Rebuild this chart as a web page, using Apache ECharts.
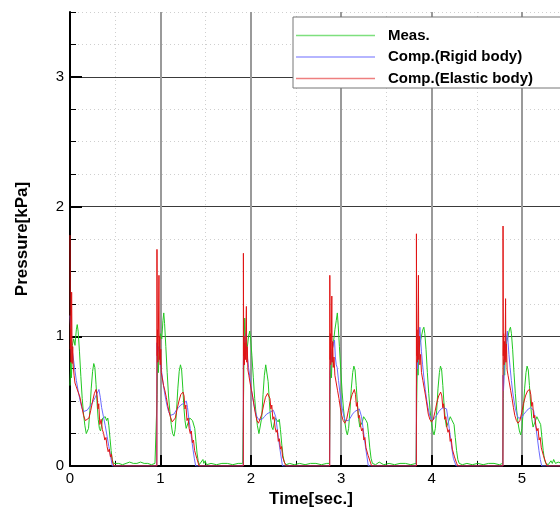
<!DOCTYPE html>
<html>
<head>
<meta charset="utf-8">
<script src="https://cdn.jsdelivr.net/npm/echarts@6/dist/echarts.min.js"></script>
<style>
html,body{margin:0;padding:0;background:#fff;overflow:hidden;}
#chart{width:560px;height:508px;}
</style>
</head>
<body>
<div id="chart"></div>
<script>
// Series names
var seriesNames = ['Meas.', 'Comp.(Rigid body)', 'Comp.(Elastic body)'];

// Measured pressure [time(s), kPa]
var measured = [
[0.000,0.62],[0.008,0.80],[0.016,0.68],[0.026,0.93],[0.040,0.98],[0.055,0.93],[0.070,1.05],[0.080,1.09],[0.090,1.04],[0.105,0.88],[0.120,0.69],[0.135,0.52],[0.150,0.40],[0.165,0.31],[0.180,0.25],[0.192,0.24],[0.205,0.29],[0.220,0.43],[0.235,0.60],[0.250,0.73],[0.263,0.79],[0.275,0.76],[0.288,0.63],[0.300,0.48],[0.312,0.36],[0.325,0.29],[0.338,0.27],[0.350,0.32],[0.362,0.37],[0.375,0.36],[0.390,0.38],[0.405,0.35],[0.418,0.37],[0.430,0.31],[0.443,0.21],[0.455,0.12],[0.467,0.05],[0.480,0.02],[0.500,0.01],[0.540,0.02],[0.580,0.01],[0.620,0.02],[0.660,0.03],[0.700,0.02],[0.740,0.02],[0.780,0.03],[0.820,0.02],[0.860,0.02],[0.900,0.01],[0.940,0.02],
[0.958,0.02],[0.964,0.55],[0.970,0.85],[0.978,0.72],[0.988,0.95],[1.000,1.02],[1.015,0.98],[1.028,1.12],[1.037,1.18],[1.046,1.10],[1.060,0.92],[1.075,0.72],[1.090,0.54],[1.105,0.42],[1.120,0.32],[1.135,0.25],[1.150,0.23],[1.163,0.28],[1.178,0.42],[1.193,0.60],[1.208,0.73],[1.222,0.78],[1.235,0.74],[1.248,0.60],[1.260,0.45],[1.272,0.35],[1.285,0.29],[1.298,0.28],[1.310,0.34],[1.325,0.37],[1.340,0.38],[1.355,0.35],[1.368,0.36],[1.380,0.29],[1.393,0.19],[1.405,0.10],[1.418,0.04],[1.430,0.01],[1.450,0.02],[1.470,0.05],[1.480,0.02],[1.495,0.04],[1.510,0.01],[1.560,0.02],[1.620,0.01],[1.680,0.02],[1.740,0.02],[1.800,0.01],[1.860,0.02],[1.910,0.02],
[1.916,0.02],[1.921,0.60],[1.927,0.98],[1.933,1.14],[1.940,0.90],[1.950,0.95],[1.962,0.92],[1.975,1.00],[1.988,1.04],[1.998,0.98],[2.012,0.85],[2.028,0.68],[2.043,0.52],[2.058,0.40],[2.073,0.31],[2.090,0.25],[2.105,0.26],[2.120,0.37],[2.135,0.55],[2.150,0.70],[2.165,0.78],[2.178,0.77],[2.192,0.65],[2.205,0.50],[2.218,0.37],[2.232,0.30],[2.245,0.28],[2.258,0.33],[2.272,0.37],[2.288,0.38],[2.302,0.34],[2.315,0.36],[2.328,0.28],[2.342,0.17],[2.356,0.08],[2.370,0.03],[2.390,0.01],[2.430,0.02],[2.480,0.01],[2.540,0.02],[2.600,0.01],[2.660,0.02],[2.720,0.02],[2.780,0.01],[2.840,0.02],[2.870,0.02],
[2.872,0.02],[2.877,0.55],[2.884,0.78],[2.892,0.68],[2.902,0.90],[2.915,0.96],[2.930,1.05],[2.945,1.12],[2.957,1.18],[2.967,1.08],[2.980,0.92],[2.995,0.74],[3.010,0.57],[3.025,0.44],[3.040,0.34],[3.055,0.27],[3.068,0.24],[3.082,0.29],[3.097,0.43],[3.112,0.60],[3.127,0.72],[3.140,0.77],[3.153,0.74],[3.166,0.62],[3.180,0.47],[3.193,0.36],[3.206,0.30],[3.220,0.29],[3.233,0.34],[3.248,0.38],[3.262,0.37],[3.276,0.35],[3.290,0.33],[3.303,0.24],[3.316,0.14],[3.330,0.06],[3.345,0.02],[3.380,0.01],[3.420,0.03],[3.470,0.01],[3.530,0.02],[3.590,0.01],[3.650,0.02],[3.710,0.02],[3.770,0.01],[3.828,0.02],
[3.830,0.02],[3.835,0.50],[3.842,0.80],[3.850,0.70],[3.860,0.88],[3.873,0.95],[3.888,1.00],[3.902,1.05],[3.914,1.07],[3.925,1.02],[3.938,0.90],[3.953,0.72],[3.968,0.56],[3.983,0.43],[3.998,0.33],[4.013,0.27],[4.027,0.24],[4.041,0.29],[4.056,0.43],[4.071,0.60],[4.086,0.72],[4.098,0.77],[4.111,0.74],[4.124,0.62],[4.138,0.47],[4.151,0.36],[4.164,0.30],[4.178,0.30],[4.191,0.35],[4.206,0.38],[4.220,0.36],[4.234,0.37],[4.248,0.32],[4.262,0.22],[4.276,0.12],[4.290,0.05],[4.305,0.02],[4.340,0.01],[4.390,0.02],[4.450,0.01],[4.510,0.02],[4.570,0.01],[4.630,0.02],[4.690,0.02],[4.750,0.01],[4.786,0.02],
[4.788,0.02],[4.793,0.52],[4.800,0.82],[4.808,0.70],[4.818,0.90],[4.831,0.96],[4.846,1.00],[4.860,1.05],[4.872,1.07],[4.883,1.02],[4.896,0.90],[4.911,0.72],[4.926,0.56],[4.941,0.43],[4.956,0.33],[4.971,0.27],[4.985,0.24],[4.999,0.29],[5.014,0.43],[5.029,0.60],[5.044,0.72],[5.056,0.77],[5.069,0.74],[5.082,0.62],[5.096,0.47],[5.109,0.36],[5.122,0.30],[5.136,0.30],[5.149,0.35],[5.164,0.38],[5.178,0.36],[5.192,0.37],[5.206,0.32],[5.220,0.22],[5.234,0.12],[5.248,0.05],[5.263,0.02],[5.290,0.01],[5.320,0.04],[5.335,0.02],[5.350,0.05],[5.370,0.02],[5.400,0.03],[5.440,0.02]
];

// Computed, rigid body [time(s), kPa]
var rigid = [
[0.000,1.16],[0.008,1.05],[0.015,0.87],[0.025,0.89],[0.035,0.84],[0.050,0.76],[0.070,0.66],[0.090,0.58],[0.110,0.51],[0.130,0.45],[0.150,0.42],[0.170,0.41],[0.190,0.43],[0.220,0.46],[0.250,0.49],[0.280,0.53],[0.300,0.56],[0.320,0.59],[0.335,0.53],[0.350,0.45],[0.370,0.38],[0.390,0.31],[0.410,0.23],[0.430,0.15],[0.450,0.07],[0.468,0.00],
[0.960,0.00],[0.962,0.95],[0.970,0.88],[0.978,0.92],[0.988,0.86],[1.000,0.80],[1.015,0.72],[1.030,0.64],[1.045,0.57],[1.060,0.51],[1.075,0.46],[1.090,0.42],[1.110,0.39],[1.130,0.38],[1.150,0.40],[1.175,0.43],[1.200,0.45],[1.225,0.47],[1.250,0.48],[1.272,0.49],[1.287,0.50],[1.300,0.45],[1.315,0.36],[1.330,0.29],[1.345,0.21],[1.360,0.13],[1.375,0.06],[1.390,0.00],
[1.916,0.00],[1.918,0.80],[1.925,0.95],[1.944,1.02],[1.952,0.90],[1.962,0.84],[1.975,0.76],[1.990,0.68],[2.005,0.60],[2.020,0.53],[2.035,0.47],[2.050,0.42],[2.068,0.38],[2.085,0.36],[2.105,0.35],[2.125,0.36],[2.150,0.38],[2.175,0.40],[2.200,0.41],[2.225,0.42],[2.250,0.43],[2.262,0.43],[2.275,0.38],[2.290,0.30],[2.305,0.22],[2.320,0.14],[2.335,0.07],[2.350,0.00],
[2.872,0.00],[2.874,0.70],[2.882,0.88],[2.890,0.80],[2.900,0.90],[2.926,0.97],[2.935,0.84],[2.945,0.78],[2.955,0.76],[2.970,0.66],[2.985,0.57],[3.000,0.49],[3.015,0.43],[3.030,0.38],[3.045,0.35],[3.062,0.34],[3.080,0.35],[3.100,0.37],[3.125,0.40],[3.150,0.42],[3.175,0.43],[3.200,0.44],[3.212,0.43],[3.225,0.38],[3.240,0.30],[3.255,0.22],[3.270,0.14],[3.285,0.07],[3.300,0.00],
[3.830,0.00],[3.832,0.60],[3.838,0.82],[3.846,0.75],[3.855,0.95],[3.870,1.07],[3.878,0.98],[3.888,0.88],[3.900,0.78],[3.915,0.68],[3.930,0.59],[3.945,0.51],[3.960,0.45],[3.975,0.40],[3.990,0.37],[4.010,0.35],[4.030,0.36],[4.055,0.39],[4.080,0.42],[4.105,0.44],[4.130,0.45],[4.150,0.46],[4.165,0.44],[4.180,0.37],[4.195,0.29],[4.210,0.21],[4.225,0.13],[4.240,0.06],[4.255,0.03],[4.272,0.00],
[4.788,0.00],[4.790,0.70],[4.795,0.58],[4.800,0.66],[4.808,0.85],[4.838,1.04],[4.846,0.95],[4.855,0.86],[4.868,0.76],[4.882,0.66],[4.897,0.57],[4.912,0.50],[4.927,0.44],[4.942,0.40],[4.958,0.37],[4.975,0.36],[4.995,0.37],[5.020,0.40],[5.045,0.42],[5.070,0.44],[5.095,0.45],[5.113,0.46],[5.128,0.43],[5.142,0.36],[5.157,0.28],[5.172,0.20],[5.187,0.12],[5.202,0.05],[5.218,0.00],[5.440,0.00]
];

// Computed, elastic body [time(s), kPa]
var elastic = [
[0.000,1.78],[0.004,0.90],[0.008,1.05],[0.012,0.80],[0.018,1.34],[0.024,0.79],[0.030,0.92],[0.036,0.77],[0.045,0.70],[0.055,0.64],[0.070,0.61],[0.090,0.57],[0.110,0.53],[0.130,0.46],[0.150,0.39],[0.170,0.35],[0.190,0.34],[0.210,0.37],[0.230,0.43],[0.250,0.50],[0.270,0.56],[0.288,0.59],[0.300,0.54],[0.310,0.44],[0.318,0.48],[0.330,0.32],[0.345,0.36],[0.358,0.28],[0.372,0.25],[0.385,0.20],[0.398,0.22],[0.410,0.15],[0.422,0.11],[0.435,0.13],[0.447,0.07],[0.458,0.09],[0.470,0.03],[0.485,0.00],
[0.961,0.00],[0.962,1.67],[0.965,0.85],[0.969,1.05],[0.972,0.80],[0.977,0.98],[0.984,1.47],[0.988,0.82],[0.993,1.00],[0.998,0.78],[1.004,0.90],[1.010,0.72],[1.020,0.68],[1.035,0.62],[1.050,0.58],[1.065,0.53],[1.080,0.47],[1.095,0.42],[1.110,0.38],[1.130,0.34],[1.147,0.33],[1.165,0.37],[1.185,0.44],[1.205,0.50],[1.225,0.55],[1.250,0.57],[1.262,0.54],[1.272,0.44],[1.282,0.47],[1.294,0.35],[1.306,0.37],[1.318,0.29],[1.330,0.25],[1.342,0.27],[1.354,0.18],[1.366,0.20],[1.378,0.12],[1.390,0.13],[1.402,0.06],[1.414,0.07],[1.428,0.00],
[1.917,0.00],[1.918,1.64],[1.921,0.85],[1.925,1.00],[1.929,0.78],[1.934,0.95],[1.940,0.82],[1.951,1.23],[1.955,0.80],[1.961,0.92],[1.968,0.74],[1.978,0.70],[1.992,0.64],[2.008,0.58],[2.022,0.53],[2.037,0.46],[2.052,0.40],[2.068,0.35],[2.085,0.33],[2.103,0.34],[2.122,0.40],[2.142,0.47],[2.162,0.53],[2.185,0.56],[2.200,0.57],[2.212,0.52],[2.222,0.44],[2.232,0.47],[2.244,0.36],[2.256,0.38],[2.268,0.30],[2.280,0.26],[2.292,0.28],[2.304,0.19],[2.316,0.21],[2.328,0.13],[2.340,0.15],[2.352,0.07],[2.364,0.08],[2.376,0.02],[2.388,0.00],
[2.873,0.00],[2.874,1.47],[2.877,0.82],[2.881,1.02],[2.885,0.78],[2.890,0.95],[2.896,1.31],[2.900,0.80],[2.906,0.96],[2.912,0.76],[2.920,0.84],[2.930,0.70],[2.945,0.64],[2.960,0.58],[2.975,0.52],[2.990,0.45],[3.005,0.39],[3.022,0.35],[3.040,0.33],[3.060,0.36],[3.080,0.43],[3.100,0.50],[3.120,0.55],[3.145,0.59],[3.158,0.55],[3.168,0.46],[3.178,0.49],[3.190,0.37],[3.202,0.39],[3.214,0.31],[3.226,0.27],[3.238,0.29],[3.250,0.20],[3.262,0.22],[3.274,0.14],[3.286,0.15],[3.298,0.08],[3.310,0.09],[3.322,0.03],[3.336,0.00],
[3.831,0.00],[3.832,1.79],[3.835,0.85],[3.839,1.05],[3.843,0.80],[3.848,0.98],[3.854,1.47],[3.858,0.82],[3.864,1.00],[3.870,0.78],[3.878,0.86],[3.888,0.72],[3.903,0.66],[3.918,0.60],[3.933,0.54],[3.948,0.47],[3.963,0.40],[3.980,0.36],[3.998,0.34],[4.018,0.36],[4.038,0.42],[4.058,0.49],[4.078,0.54],[4.100,0.57],[4.113,0.54],[4.123,0.45],[4.133,0.48],[4.145,0.36],[4.157,0.38],[4.169,0.30],[4.181,0.26],[4.193,0.28],[4.205,0.19],[4.217,0.21],[4.229,0.13],[4.241,0.14],[4.253,0.07],[4.265,0.08],[4.277,0.02],[4.290,0.00],
[4.789,0.00],[4.790,1.85],[4.793,0.85],[4.797,1.02],[4.801,0.78],[4.806,0.96],[4.812,0.82],[4.818,1.29],[4.822,0.80],[4.828,0.94],[4.835,0.74],[4.845,0.70],[4.860,0.64],[4.875,0.58],[4.890,0.52],[4.905,0.45],[4.920,0.39],[4.938,0.35],[4.956,0.33],[4.976,0.35],[4.996,0.41],[5.016,0.48],[5.038,0.54],[5.062,0.58],[5.085,0.59],[5.097,0.55],[5.107,0.46],[5.117,0.49],[5.129,0.37],[5.141,0.39],[5.153,0.31],[5.165,0.27],[5.177,0.29],[5.189,0.20],[5.201,0.22],[5.213,0.14],[5.225,0.15],[5.237,0.08],[5.249,0.09],[5.261,0.03],[5.275,0.00],[5.440,0.00]
];

var FONT = "'Liberation Sans', Arial, Helvetica, sans-serif";
var chart = echarts.init(document.getElementById('chart'), null, {renderer: 'canvas', width: 560, height: 508});

var lineColors = ['#22c822', '#6a6aff', '#e01414'];
var legendColors = ['#7ee07e', '#9c9cff', '#ee7f7f'];

var option = {
  animation: false,
  backgroundColor: '#ffffff',
  grid: {left: 70, width: 490, top: 12, height: 454, containLabel: false, outerBoundsMode: 'none'},
  legend: {
    orient: 'vertical',
    left: 293, top: 17,
    backgroundColor: '#ffffff',
    borderColor: '#777777', borderWidth: 1, borderRadius: 0,
    padding: [11, 40, 2, 3],
    itemWidth: 79, itemHeight: 1.5, itemGap: 6.5,
    z: 10,
    data: seriesNames.map(function (n, i) {
      return {name: n, icon: 'rect', itemStyle: {color: legendColors[i]}};
    }),
    textStyle: {fontFamily: FONT, fontSize: 15, fontWeight: 'bold', color: '#000', padding: [0, 0, 0, 8]}
  },
  xAxis: [
    {
      type: 'value', min: 0, max: 5.42, interval: 1, position: 'bottom', z: 1,
      name: 'Time[sec.]', nameLocation: 'middle', nameGap: 21,
      nameTextStyle: {fontFamily: FONT, fontSize: 17, fontWeight: 'bold', color: '#000', padding: [0, 8, 0, 0]},
      axisLine: {show: true, onZero: false, lineStyle: {color: '#000', width: 2}},
      axisTick: {show: true, inside: true, length: 11, lineStyle: {color: '#000', width: 2}},
      axisLabel: {show: true, margin: 5, fontFamily: FONT, fontSize: 15, color: '#000', showMaxLabel: false},
      splitLine: {show: true, showMaxLine: false, lineStyle: {color: '#9a9a9a', width: 2}}
    },
    {
      type: 'value', min: 0, max: 5.42, interval: 0.5, position: 'bottom', z: 0,
      axisLine: {show: false},
      axisTick: {show: true, inside: true, length: 5, lineStyle: {color: '#000', width: 1}},
      axisLabel: {show: false},
      splitLine: {show: true, lineStyle: {color: '#cfcfcf', width: 1, type: [1, 3]}}
    }
  ],
  yAxis: [
    {
      type: 'value', min: 0, max: 3.5, interval: 1, position: 'left', z: 1,
      name: 'Pressure[kPa]', nameLocation: 'middle', nameGap: 39,
      nameTextStyle: {fontFamily: FONT, fontSize: 17, fontWeight: 'bold', color: '#000'},
      axisLine: {show: true, onZero: false, lineStyle: {color: '#000', width: 2}},
      axisTick: {show: true, inside: true, length: 12, lineStyle: {color: '#000', width: 2}},
      axisLabel: {show: true, margin: 6, fontFamily: FONT, fontSize: 15, color: '#000', showMaxLabel: false},
      splitLine: {show: true, showMaxLine: false, lineStyle: {color: '#3a3a3a', width: 1.2}}
    },
    {
      type: 'value', min: 0, max: 3.5, interval: 0.25, position: 'left', z: 0,
      axisLine: {show: false},
      axisTick: {show: true, inside: true, length: 6, lineStyle: {color: '#000', width: 1}},
      axisLabel: {show: false},
      splitLine: {show: true, lineStyle: {color: '#cfcfcf', width: 1, type: [1, 3]}}
    }
  ],
  series: [
    {name: seriesNames[0], type: 'line', data: measured, symbol: 'none', z: 3,
     lineStyle: {color: lineColors[0], width: 1}, itemStyle: {color: lineColors[0]}},
    {name: seriesNames[1], type: 'line', data: rigid, symbol: 'none', z: 4,
     lineStyle: {color: lineColors[1], width: 1}, itemStyle: {color: lineColors[1]}},
    {name: seriesNames[2], type: 'line', data: elastic, symbol: 'none', z: 5,
     lineStyle: {color: lineColors[2], width: 1}, itemStyle: {color: lineColors[2]}}
  ]
};
chart.setOption(option);
</script>
</body>
</html>
